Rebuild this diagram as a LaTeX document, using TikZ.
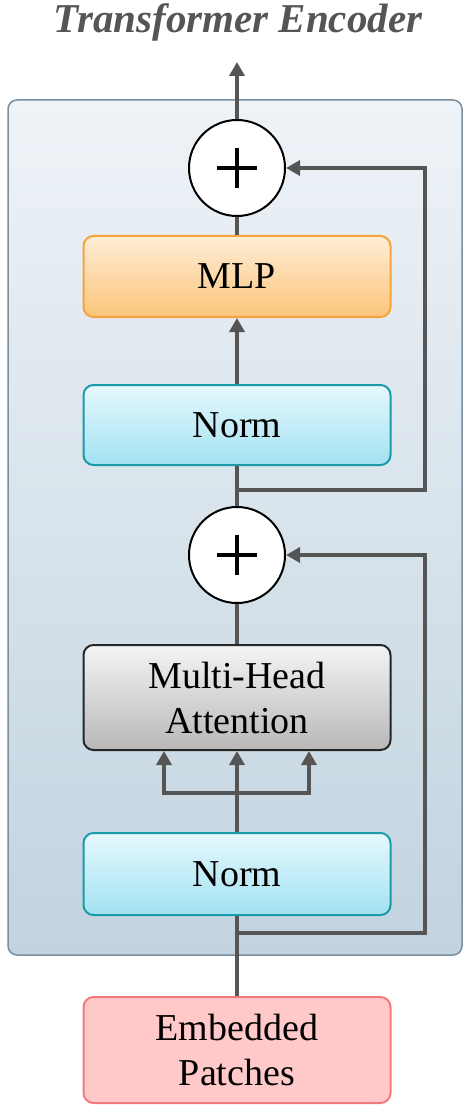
\documentclass[tikz,border=0pt]{standalone}
\usepackage{fontspec}
\setmainfont{Liberation Serif}
\usetikzlibrary{arrows.meta,calc}
\definecolor{ln}{HTML}{555555}
\definecolor{outtop}{HTML}{EEF3F7}
\definecolor{outbot}{HTML}{C2D3DF}
\definecolor{outbd}{HTML}{7A8FA0}
\definecolor{mlptop}{HTML}{FEEDD6}
\definecolor{mlpbot}{HTML}{FBC57A}
\definecolor{mlpbd}{HTML}{F5A33A}
\definecolor{nrmtop}{HTML}{E6F8FD}
\definecolor{nrmbot}{HTML}{A2E2F2}
\definecolor{nrmbd}{HTML}{1B9AAA}
\definecolor{mhatop}{HTML}{F4F4F4}
\definecolor{mhabot}{HTML}{B8B8B8}
\definecolor{embfill}{HTML}{FFC9CA}
\definecolor{embbd}{HTML}{F07A7C}
\tikzset{
  conn/.style={draw=ln, line width=4.2pt, line join=miter},
  arr/.style={conn, -{Triangle[length=14pt,width=15pt]}},
  blk/.style={rounded corners=10pt, line width=2pt, minimum width=307pt,
     text width=300pt, align=center, inner sep=0pt,
     font=\fontsize{38}{45}\selectfont},
  mlpbox/.style={blk, draw=mlpbd, top color=mlptop, bottom color=mlpbot},
  normbox/.style={blk, draw=nrmbd, top color=nrmtop, bottom color=nrmbot},
  mhabox/.style={blk, draw=black!85, top color=mhatop, bottom color=mhabot},
  embbox/.style={blk, draw=embbd, fill=embfill},
  addc/.style={circle, draw=black, line width=2pt, fill=white, minimum size=96pt, inner sep=0pt},
  plus/.style={line width=4.5pt, draw=black},
}
\begin{document}
\begin{tikzpicture}[x=1pt,y=-1pt]
\useasboundingbox (0,0) rectangle (472,1115);
% outer container
\node[draw=outbd, line width=1.5pt, rounded corners=9pt, top color=outtop, bottom color=outbot,
  minimum width=454pt, minimum height=855pt, inner sep=0pt] (enc) at (235,527.5) {};
% title
\node[text=ln, font=\fontsize{41}{48}\selectfont\bfseries\itshape] (title) at (238,22) {Transformer Encoder};
% blocks
\node[addc] (c1) at (237,168) {};
\node[mlpbox, minimum height=81pt] (mlp) at (237,276.5) {MLP};
\node[normbox, minimum height=80pt] (norm2) at (237,425) {Norm};
\node[addc] (c2) at (237,555) {};
\node[mhabox, minimum height=105pt] (mha) at (237,697.5) {Multi-Head\\Attention};
\node[normbox, minimum height=82pt] (norm1) at (237,874) {Norm};
\node[embbox, minimum height=106pt] (emb) at (237,1050) {Embedded\\Patches};
% plus signs
\foreach \c in {c1,c2}{
  \draw[plus] ([xshift=-20pt]\c.center) -- ([xshift=20pt]\c.center);
  \draw[plus] ([yshift=-20pt]\c.center) -- ([yshift=20pt]\c.center);
}
% coordinates
\coordinate (out) at (237,62);
\coordinate (b2) at (237,490);
\coordinate (r2) at (425,490);
\coordinate (b1) at (237,933);
\coordinate (r1) at (425,933);
\coordinate (hj) at (237,793);
% connectors
\draw[arr] (c1.north) -- (out);
\draw[conn] (mlp.north) -- (c1.south);
\draw[arr] (norm2.north) -- (mlp.south);
\draw[conn] (norm2.south) -- (c2.north);
\draw[arr] (b2) -- (r2) |- (c1.east);
\draw[conn] (c2.south) -- (mha.north);
\draw[arr] (norm1.north) -- (mha.south);
\draw[arr] (hj) -| ([xshift=-73pt]mha.south);
\draw[arr] (hj) -| ([xshift=72pt]mha.south);
\draw[conn] (emb.north) -- (norm1.south);
\draw[arr] (b1) -- (r1) |- (c2.east);
\end{tikzpicture}
\end{document}
